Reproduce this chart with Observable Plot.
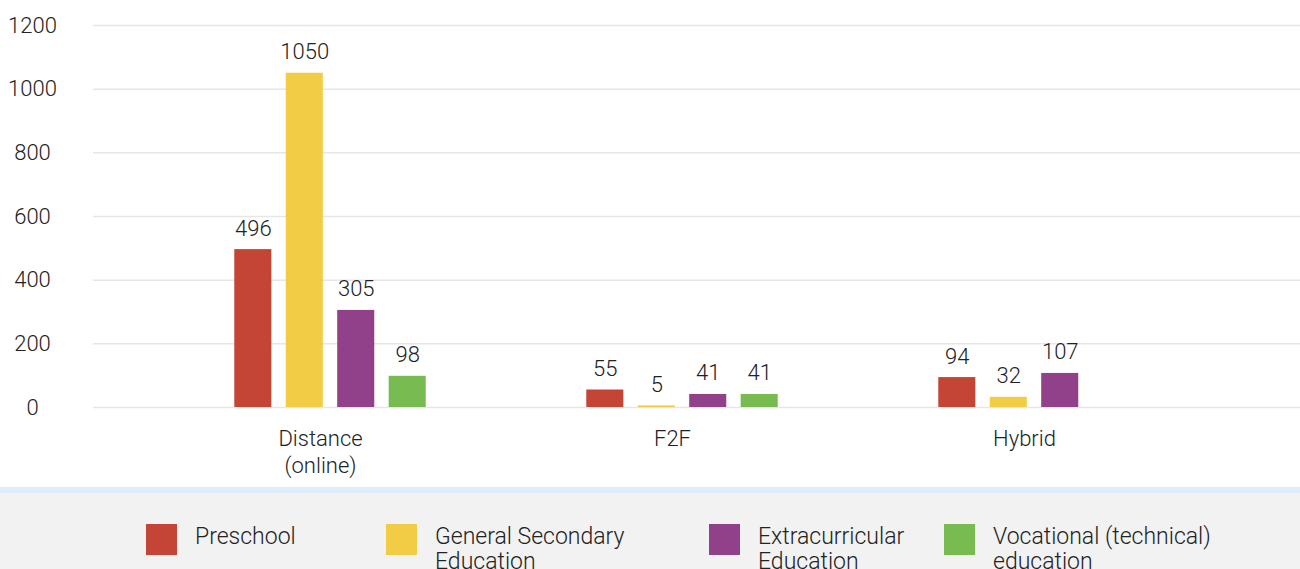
<!DOCTYPE html>
<html><head><meta charset="utf-8">
<script src="https://cdn.jsdelivr.net/npm/d3@7"></script>
<script src="https://cdn.jsdelivr.net/npm/@observablehq/plot@0.6"></script>
<style>
body{margin:0;background:#fff;font-family:Roboto,"Liberation Sans",sans-serif;}
#wrap{position:relative;width:1300px;height:487px;}
#wrap svg{position:absolute;left:0;top:0;}
svg text{font-weight:300;}
#strip{width:1300px;height:6px;background:#ddeefa;}
#legend{position:relative;width:1300px;height:76px;background:#f2f2f2;overflow:hidden;}
.sw{position:absolute;top:31px;width:31px;height:31px;}
.lab{position:absolute;top:31px;font-size:23px;line-height:25px;white-space:pre-line;color:#222;font-weight:300;}
</style></head><body>
<div id="wrap"></div><div id="strip"></div><div id="legend"></div>
<script>
const categories = ["Distance (online)", "F2F", "Hybrid"];
const categoryLabels = ["Distance\n(online)", "F2F", "Hybrid"];
const series = ["Preschool", "General Secondary Education", "Extracurricular Education", "Vocational (technical) education"];
const legendLabels = ["Preschool", "General Secondary\nEducation", "Extracurricular\nEducation", "Vocational (technical)\neducation"];
const colors = ["#c44536", "#f2cc44", "#91408a", "#77bb51"];
const preschool = [496, 55, 94];
const generalSecondary = [1050, 5, 32];
const extracurricular = [305, 41, 107];
const vocational = [98, 41, null];
const yTicks = [0, 200, 400, 600, 800, 1000, 1200];

const seriesValues = [preschool, generalSecondary, extracurricular, vocational];
const data = [];
series.forEach((s, si) => categories.forEach((c, ci) => {
  const v = seriesValues[si][ci];
  if (v != null) data.push({category: c, series: s, value: v});
}));

const font = "Roboto, 'Liberation Sans', sans-serif";
const common = {width: 1300, height: 487, marginTop: 25, marginBottom: 80};

const bg = Plot.plot({
  ...common, marginLeft: 93, marginRight: 0,
  style: {background: "transparent", fontFamily: font, fontSize: "22px", color: "#222"},
  y: {domain: [0, 1200], axis: null},
  marks: [
    Plot.ruleY(yTicks, {stroke: "#e6e6e6", strokeWidth: 1.5}),
    Plot.text(yTicks, {y: d => d, frameAnchor: "left", dx: -61, text: d => String(d), textAnchor: "middle", fill: "#222", fontSize: 22})
  ]
});

const fg = Plot.plot({
  ...common, marginLeft: 154, marginRight: 90,
  style: {background: "transparent", fontFamily: font, fontSize: "22px", color: "#222"},
  fx: {domain: categories, padding: 0, axis: null},
  x: {domain: series, axis: null, paddingInner: 0.28, paddingOuter: 1.56, round: false},
  y: {domain: [0, 1200], axis: null},
  color: {domain: series, range: colors},
  marks: [
    Plot.barY(data, {fx: "category", x: "series", y: "value", fill: "series"}),
    Plot.text(data, {fx: "category", x: "series", y: "value", text: d => String(d.value), dy: -21, lineAnchor: "middle", fill: "#222", fontSize: 22}),
    Plot.text(categories, {fx: d => d, frameAnchor: "bottom", text: (d, i) => categoryLabels[i], dy: 20, dx: -10, lineAnchor: "top", lineHeight: 1.2, fill: "#222", fontSize: 22})
  ]
});

const wrap = document.getElementById("wrap");
wrap.appendChild(bg);
wrap.appendChild(fg);

const legend = document.getElementById("legend");
const legendX = [146, 386, 709, 944];
series.forEach((s, i) => {
  const sw = document.createElement("div");
  sw.className = "sw";
  sw.style.left = legendX[i] + "px";
  sw.style.background = colors[i];
  legend.appendChild(sw);
  const lab = document.createElement("div");
  lab.className = "lab";
  lab.style.left = (legendX[i] + 49) + "px";
  lab.textContent = legendLabels[i];
  legend.appendChild(lab);
});
</script>
</body></html>
